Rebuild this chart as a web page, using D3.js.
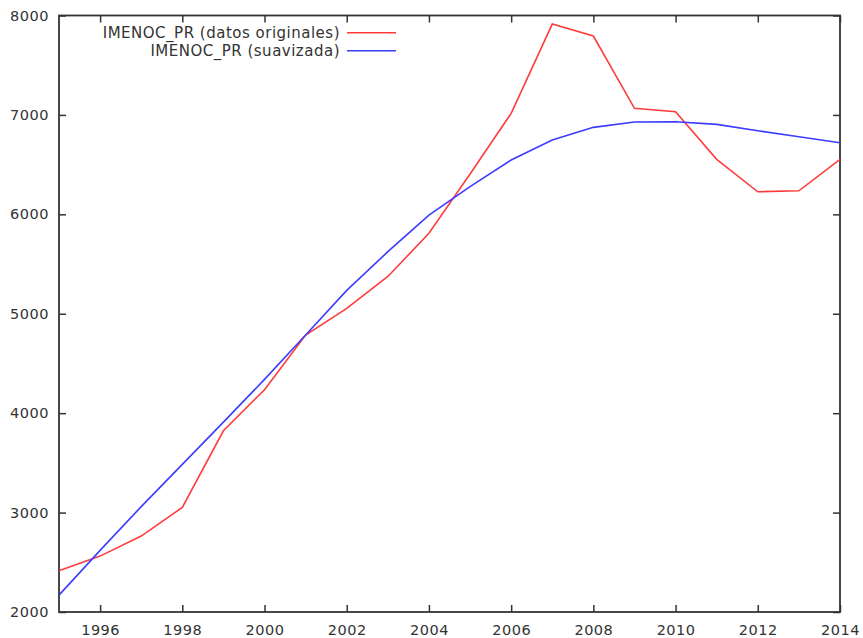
<!DOCTYPE html>
<html>
<head>
<meta charset="utf-8">
<script src="https://cdn.jsdelivr.net/npm/d3@7"></script>
<style>
  body { margin: 0; background: #fff; }
  svg text { font-family: "DejaVu Sans", Verdana, sans-serif; fill: #333; }
</style>
</head>
<body>
<div id="chart"></div>
<script>
// years and the two series
var years = [1995, 1996, 1997, 1998, 1999, 2000, 2001, 2002, 2003, 2004,
             2005, 2006, 2007, 2008, 2009, 2010, 2011, 2012, 2013, 2014];
var original = [2414, 2562, 2764, 3052, 3823, 4236, 4786, 5054, 5375, 5809,
                6405, 7016, 7914, 7794, 7066, 7032, 6553, 6227, 6237, 6553];
var smoothed = [2170, 2620, 3060, 3485, 3910, 4340, 4786, 5235, 5624, 5993,
                6278, 6546, 6747, 6875, 6929, 6932, 6905, 6841, 6781, 6720];
var xTicks = [1996, 1998, 2000, 2002, 2004, 2006, 2008, 2010, 2012, 2014];
var yTicks = [2000, 3000, 4000, 5000, 6000, 7000, 8000];
var seriesLabels = ["IMENOC_PR (datos originales)", "IMENOC_PR (suavizada)"];
var colors = ["#ff3c3c", "#3c3cff"];

var width = 863, height = 638;
var plotLeft = 59, plotRight = 840, plotTop = 15.5, plotBottom = 612;

var svg = d3.select("#chart").append("svg")
    .attr("width", width)
    .attr("height", height);

var x = d3.scaleLinear().domain([1995, 2014]).range([plotLeft, plotRight]);
var y = d3.scaleLinear().domain([2000, 8000]).range([plotBottom, plotTop]);

var tickLen = 7;

// axes (ticks point inward, mirrored on top and right)
var axes = [
    { axis: d3.axisBottom(x).tickValues(xTicks).tickFormat(d3.format("d")).tickSize(-tickLen).tickPadding(13), t: "translate(0," + plotBottom + ")" },
    { axis: d3.axisTop(x).tickValues(xTicks).tickFormat("").tickSize(-tickLen), t: "translate(0," + plotTop + ")" },
    { axis: d3.axisLeft(y).tickValues(yTicks).tickFormat(d3.format("d")).tickSize(-tickLen).tickPadding(10), t: "translate(" + plotLeft + ",0)" },
    { axis: d3.axisRight(y).tickValues(yTicks).tickFormat("").tickSize(-tickLen), t: "translate(" + plotRight + ",0)" }
];

axes.forEach(function (a) {
    var g = svg.append("g")
        .attr("transform", a.t)
        .call(a.axis);
    g.select(".domain").remove();
    g.selectAll(".tick line").attr("stroke", "#333").attr("stroke-width", 1.5);
    g.selectAll(".tick text")
        .style("font-size", "14.5px")
        .style("letter-spacing", "0.5px")
        .attr("fill", "#333");
});

// frame
svg.append("rect")
    .attr("x", plotLeft)
    .attr("y", plotTop)
    .attr("width", plotRight - plotLeft)
    .attr("height", plotBottom - plotTop)
    .attr("fill", "none")
    .attr("stroke", "#333")
    .attr("stroke-width", 1.8);

var line = d3.line()
    .x(function (d) { return x(d[0]); })
    .y(function (d) { return y(d[1]); });

[original, smoothed].forEach(function (vals, i) {
    svg.append("path")
        .datum(years.map(function (yr, j) { return [yr, vals[j]]; }))
        .attr("fill", "none")
        .attr("stroke", colors[i])
        .attr("stroke-width", 1.6)
        .attr("d", line);
});

// legend
var legend = svg.selectAll(".legend")
    .data(seriesLabels)
    .enter().append("g")
    .attr("class", "legend")
    .attr("transform", function (d, i) { return "translate(0," + (32.7 + i * 18) + ")"; });

legend.append("text")
    .attr("x", 340)
    .attr("dy", "0.35em")
    .attr("text-anchor", "end")
    .style("font-size", "15px")
    .style("letter-spacing", "0.5px")
    .text(function (d) { return d; });

legend.append("line")
    .attr("x1", 347)
    .attr("x2", 396)
    .attr("stroke", function (d, i) { return colors[i]; })
    .attr("stroke-width", 1.6);
</script>
</body>
</html>
